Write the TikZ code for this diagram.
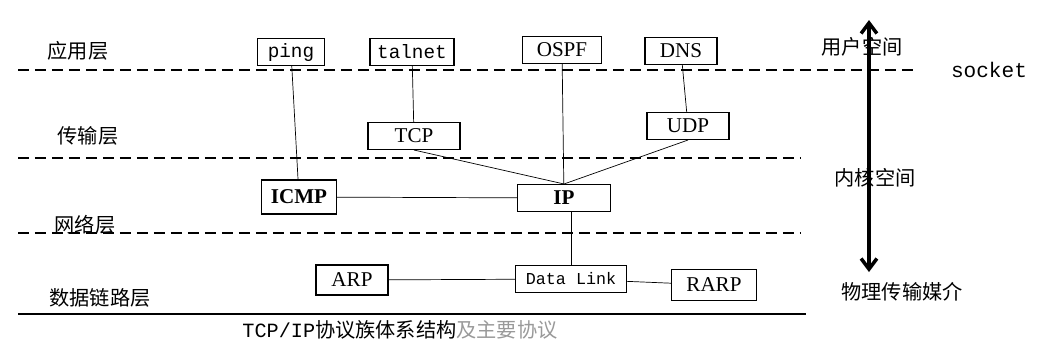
\documentclass[tikz,border=0pt]{standalone}
\usepackage{fontspec}
\setmainfont{Liberation Serif}
\setmonofont{Liberation Mono}
\newfontfamily\cjk{Noto Sans CJK SC}
\usetikzlibrary{arrows.meta}

\begin{document}
\begin{tikzpicture}[x=0.02cm, y=-0.02cm,
    box/.style={draw, semithick, minimum height=0.54cm, inner sep=1pt, font=\fontsize{12}{14}\selectfont},
    ttbox/.style={box, font=\fontsize{11}{13}\selectfont\ttfamily},
    layer/.style={font=\fontsize{11.5}{13}\selectfont\cjk},
    sep/.style={thick, dash pattern=on 0.22cm off 0.12cm}
    ]

    \useasboundingbox (0, 0) rectangle (1063, 353);

    % layer separators
    \draw[sep] (18, 70) -- (918, 70);
    \draw[sep] (18, 158) -- (800, 158);
    \draw[sep] (18, 233) -- (800, 233);
    \draw[thick] (18, 314) -- (806, 314);

    % layer names
    \node[layer] (app) at (78, 51) {应用层};
    \node[layer] (trans) at (88, 136) {传输层};
    \node[layer] (net) at (85, 225) {网络层};
    \node[layer] (link) at (100, 298) {数据链路层};

    \node[layer] (user) at (862, 47) {用户空间};
    \node[layer] (kernel) at (875, 178) {内核空间};
    \node[layer] (phys) at (902, 292) {物理传输媒介};
    \node[font=\fontsize{12}{14}\selectfont\ttfamily] (socket) at (989, 70) {socket};

    % protocols
    \node[ttbox, minimum width=1.34cm] (ping) at (291, 52) {ping};
    \node[ttbox, minimum width=1.68cm] (talnet) at (412, 52) {talnet};
    \node[box, minimum width=1.58cm] (ospf) at (562, 50) {OSPF};
    \node[box, minimum width=1.44cm] (dns) at (681, 51) {DNS};

    \node[box, minimum width=1.84cm] (tcp) at (414, 136) {TCP};
    \node[box, minimum width=1.64cm] (udp) at (688, 126) {UDP};

    \node[box, minimum width=1.5cm, minimum height=0.68cm, font=\fontsize{12}{14}\selectfont\bfseries] (icmp) at (299, 197) {ICMP};
    \node[box, minimum width=1.86cm, font=\fontsize{12}{14}\selectfont\bfseries] (ip) at (564, 198) {IP};

    \node[box, minimum width=1.44cm, minimum height=0.6cm] (arp) at (352, 280) {ARP};
    \node[ttbox, minimum width=2.22cm, font=\fontsize{9.5}{11}\selectfont\ttfamily] (dl) at (571, 279) {Data Link};
    \node[box, minimum width=1.7cm, minimum height=0.62cm] (rarp) at (714, 285) {RARP};

    % links
    \draw (ping) -- (icmp);
    \draw (talnet) -- (tcp);
    \draw (ospf) -- (ip);
    \draw (dns) -- (udp);
    \draw (tcp.south) -- (ip.north);
    \draw (udp.south) -- (ip.north);
    \draw (icmp) -- (ip);
    \draw (ip.south -| dl.north) -- (dl.north);
    \draw (arp) -- (dl);
    \draw (dl) -- (rarp);

    % user / kernel arrow
    \coordinate (top) at (869, 20);
    \coordinate (bot) at (869, 272);
    \draw[line width=2pt, {Straight Barb[length=6pt, width=9pt]}-{Straight Barb[length=6pt, width=9pt]}] (top) -- (bot);

    \node[font=\fontsize{11.5}{13}\selectfont] (caption) at (400, 330)
      {\texttt{TCP/IP}{\cjk 协议族体系结构}{\cjk\color{gray!80}及主要协议}};

\end{tikzpicture}
\end{document}
